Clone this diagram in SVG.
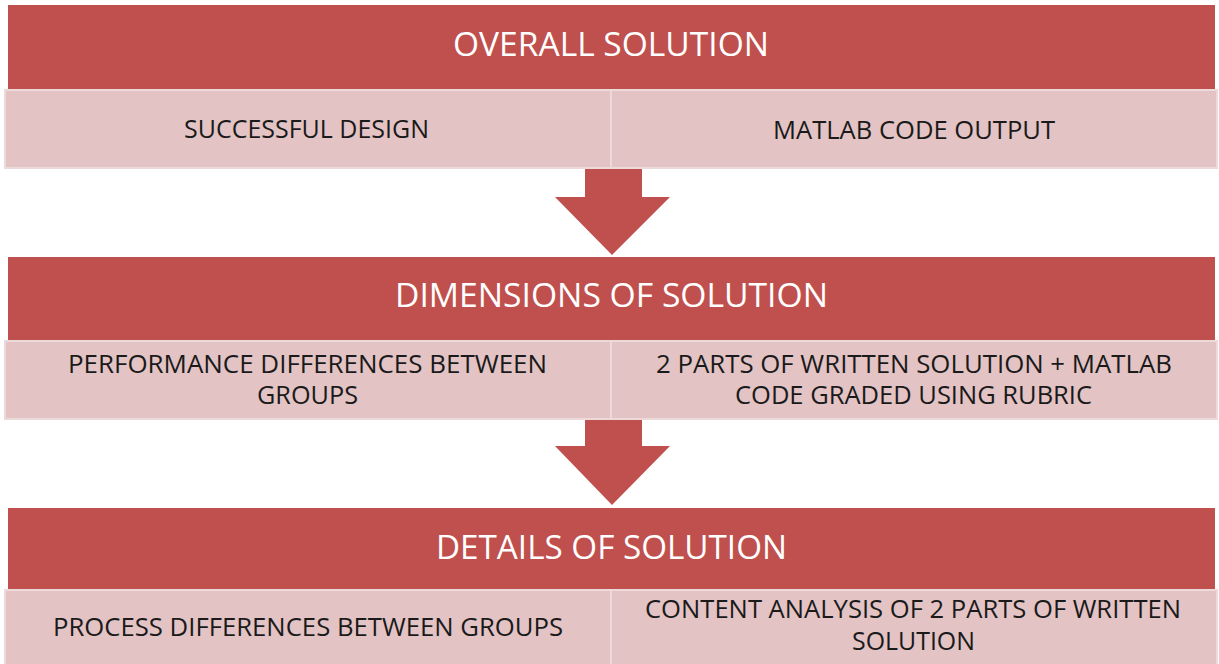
<svg xmlns="http://www.w3.org/2000/svg" width="1219" height="664" viewBox="0 0 1219 664">
  <style>
    .hdr { fill: #C0504D; }
    .cell { fill: #E3C3C4; stroke: #ECD9D9; stroke-width: 2; }
    .arrow { fill: #C0504D; }
    .htxt { font-family: "Open Sans", "Liberation Sans", sans-serif; font-size: 33px; fill: #FFFFFF; text-anchor: middle; }
    .ctxt { font-family: "Open Sans", "Liberation Sans", sans-serif; font-size: 25px; fill: #1A1A1A; text-anchor: middle; }
  </style>
  <rect width="1219" height="664" fill="#FFFFFF"/>

  <!-- connectors: block arrows between the tiers -->
  <g id="connectors">
    <polygon class="arrow" points="585,168 642,168 642,197 670,197 612,255 555,197 585,197"/>
    <polygon class="arrow" points="585,419 642,419 642,446 670,446 612,505 555,446 585,446"/>
  </g>

  <!-- tier 1 -->
  <g id="overall-solution">
    <rect class="hdr" x="8" y="5" width="1207" height="85"/>
    <text class="htxt" x="611" y="56" textLength="316" lengthAdjust="spacingAndGlyphs">OVERALL SOLUTION</text>
  </g>
  <g id="successful-design">
    <rect class="cell" x="5" y="90" width="606" height="78"/>
    <text class="ctxt" x="306.5" y="138" textLength="245" lengthAdjust="spacingAndGlyphs">SUCCESSFUL DESIGN</text>
  </g>
  <g id="matlab-code-output">
    <rect class="cell" x="611" y="90" width="606" height="78"/>
    <text class="ctxt" x="914" y="139" textLength="282" lengthAdjust="spacingAndGlyphs">MATLAB CODE OUTPUT</text>
  </g>

  <!-- tier 2 -->
  <g id="dimensions-of-solution">
    <rect class="hdr" x="8" y="257" width="1207" height="83"/>
    <text class="htxt" x="611.5" y="307" textLength="433" lengthAdjust="spacingAndGlyphs">DIMENSIONS OF SOLUTION</text>
  </g>
  <g id="performance-differences">
    <rect class="cell" x="5" y="341" width="606" height="78"/>
    <text class="ctxt" x="307.5" y="373" textLength="479" lengthAdjust="spacingAndGlyphs">PERFORMANCE DIFFERENCES BETWEEN</text>
    <text class="ctxt" x="307.5" y="404" textLength="101" lengthAdjust="spacingAndGlyphs">GROUPS</text>
  </g>
  <g id="written-solution-rubric">
    <rect class="cell" x="611" y="341" width="606" height="78"/>
    <text class="ctxt" x="914" y="373" textLength="516" lengthAdjust="spacingAndGlyphs">2 PARTS OF WRITTEN SOLUTION + MATLAB</text>
    <text class="ctxt" x="913.5" y="404" textLength="357" lengthAdjust="spacingAndGlyphs">CODE GRADED USING RUBRIC</text>
  </g>

  <!-- tier 3 -->
  <g id="details-of-solution">
    <rect class="hdr" x="8" y="508" width="1207" height="81"/>
    <text class="htxt" x="611.5" y="559" textLength="351" lengthAdjust="spacingAndGlyphs">DETAILS OF SOLUTION</text>
  </g>
  <g id="process-differences">
    <rect class="cell" x="5" y="590" width="606" height="80"/>
    <text class="ctxt" x="308" y="636" textLength="510" lengthAdjust="spacingAndGlyphs">PROCESS DIFFERENCES BETWEEN GROUPS</text>
  </g>
  <g id="content-analysis">
    <rect class="cell" x="611" y="590" width="606" height="80"/>
    <text class="ctxt" x="913" y="618" textLength="536" lengthAdjust="spacingAndGlyphs">CONTENT ANALYSIS OF 2 PARTS OF WRITTEN</text>
    <text class="ctxt" x="913.5" y="650" textLength="123" lengthAdjust="spacingAndGlyphs">SOLUTION</text>
  </g>
</svg>
